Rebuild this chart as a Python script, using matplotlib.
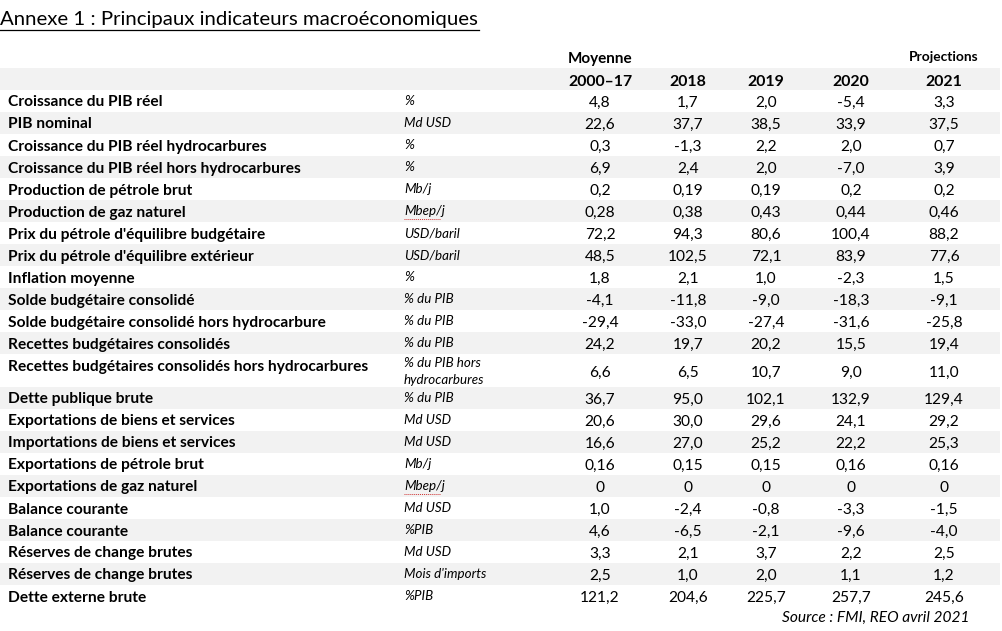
import matplotlib.pyplot as plt
from matplotlib.patches import Rectangle

# Table content
indicators = [
    "Croissance du PIB réel", "PIB nominal", "Croissance du PIB réel hydrocarbures",
    "Croissance du PIB réel hors hydrocarbures", "Production de pétrole brut",
    "Production de gaz naturel", "Prix du pétrole d'équilibre budgétaire",
    "Prix du pétrole d'équilibre extérieur", "Inflation moyenne",
    "Solde budgétaire consolidé", "Solde budgétaire consolidé hors hydrocarbure",
    "Recettes budgétaires consolidés", "Recettes budgétaires consolidés hors hydrocarbures",
    "Dette publique brute", "Exportations de biens et services",
    "Importations de biens et services", "Exportations de pétrole brut",
    "Exportations de gaz naturel", "Balance courante", "Balance courante",
    "Réserves de change brutes", "Réserves de change brutes", "Dette externe brute",
]
units = [
    "%", "Md USD", "%", "%", "Mb/j", "Mbep/j", "USD/baril", "USD/baril", "%",
    "% du PIB", "% du PIB", "% du PIB", "% du PIB hors\nhydrocarbures", "% du PIB",
    "Md USD", "Md USD", "Mb/j", "Mbep/j", "Md USD", "%PIB", "Md USD",
    "Mois d'imports", "%PIB",
]
years = ["2000–17", "2018", "2019", "2020", "2021"]
avg_2000_17 = ["4,8", "22,6", "0,3", "6,9", "0,2", "0,28", "72,2", "48,5", "1,8", "-4,1",
               "-29,4", "24,2", "6,6", "36,7", "20,6", "16,6", "0,16", "0", "1,0", "4,6",
               "3,3", "2,5", "121,2"]
v2018 = ["1,7", "37,7", "-1,3", "2,4", "0,19", "0,38", "94,3", "102,5", "2,1", "-11,8",
         "-33,0", "19,7", "6,5", "95,0", "30,0", "27,0", "0,15", "0", "-2,4", "-6,5",
         "2,1", "1,0", "204,6"]
v2019 = ["2,0", "38,5", "2,2", "2,0", "0,19", "0,43", "80,6", "72,1", "1,0", "-9,0",
         "-27,4", "20,2", "10,7", "102,1", "29,6", "25,2", "0,15", "0", "-0,8", "-2,1",
         "3,7", "2,0", "225,7"]
v2020 = ["-5,4", "33,9", "2,0", "-7,0", "0,2", "0,44", "100,4", "83,9", "-2,3", "-18,3",
         "-31,6", "15,5", "9,0", "132,9", "24,1", "22,2", "0,16", "0", "-3,3", "-9,6",
         "2,2", "1,1", "257,7"]
v2021 = ["3,3", "37,5", "0,7", "3,9", "0,2", "0,46", "88,2", "77,6", "1,5", "-9,1",
         "-25,8", "19,4", "11,0", "129,4", "29,2", "25,3", "0,16", "0", "-1,5", "-4,0",
         "2,5", "1,2", "245,6"]
columns = [avg_2000_17, v2018, v2019, v2020, v2021]

FONT = "Lato"
GRAY = "#f2f2f2"
col_x = [600, 688, 766, 851, 944]
row_h = 22
top = 90

fig = plt.figure(figsize=(10.03, 6.31), dpi=100)
ax = fig.add_axes([0, 0, 1, 1])
ax.set_xlim(0, 1003)
ax.set_ylim(631, 0)
ax.axis("off")

# Title (underlined)
ax.text(0, 19.5, "Annexe 1 : Principaux indicateurs macroéconomiques", fontsize=14.7,
        family=FONT, va="center", ha="left")
ax.plot([0, 479], [30, 30], color="black", lw=0.9)

# Header
ax.add_patch(Rectangle((0, 68), 1000, 22, color=GRAY, lw=0))
ax.text(col_x[0], 59.5, "Moyenne", fontsize=11, weight="bold", family=FONT, ha="center", va="center")
ax.text(col_x[4], 57, "Projections", fontsize=9.9, weight="bold", family=FONT, ha="center", va="center")
for x, yr in zip(col_x, years):
    ax.text(x, 81.5, yr, fontsize=11.4, weight="bold", family=FONT, ha="center", va="center")

# Body rows
y = top
for i, name in enumerate(indicators):
    two_lines = "\n" in units[i]
    h = row_h * 1.5 if two_lines else row_h
    if i % 2 == 1:
        ax.add_patch(Rectangle((0, y), 1000, h, color=GRAY, lw=0))
    ax.text(8, y + 12.5, name, fontsize=11.2, weight="bold", family=FONT, ha="left", va="center")
    if two_lines:
        ax.text(404, y + 3, units[i], fontsize=9.6, style="italic", family=FONT,
                ha="left", va="top", linespacing=1.45)
    else:
        ax.text(404, y + 11, units[i], fontsize=9.6, style="italic", family=FONT,
                ha="left", va="center")
    if units[i] == "Mbep/j":
        ax.plot([404, 440], [y + 19, y + 19], color="#d03030", lw=0.7, ls=(0, (1, 1)))
    vy = y + h / 2 + 2 if two_lines else y + 12.5
    for x, col in zip(col_x, columns):
        ax.text(x, vy, col[i], fontsize=11.2, family=FONT, ha="center", va="center")
    y += h

ax.text(970, y + 11, "Source : FMI, REO avril 2021", fontsize=11.2, style="italic",
        family=FONT, ha="right", va="center")

fig.savefig("out.png", dpi=100)
